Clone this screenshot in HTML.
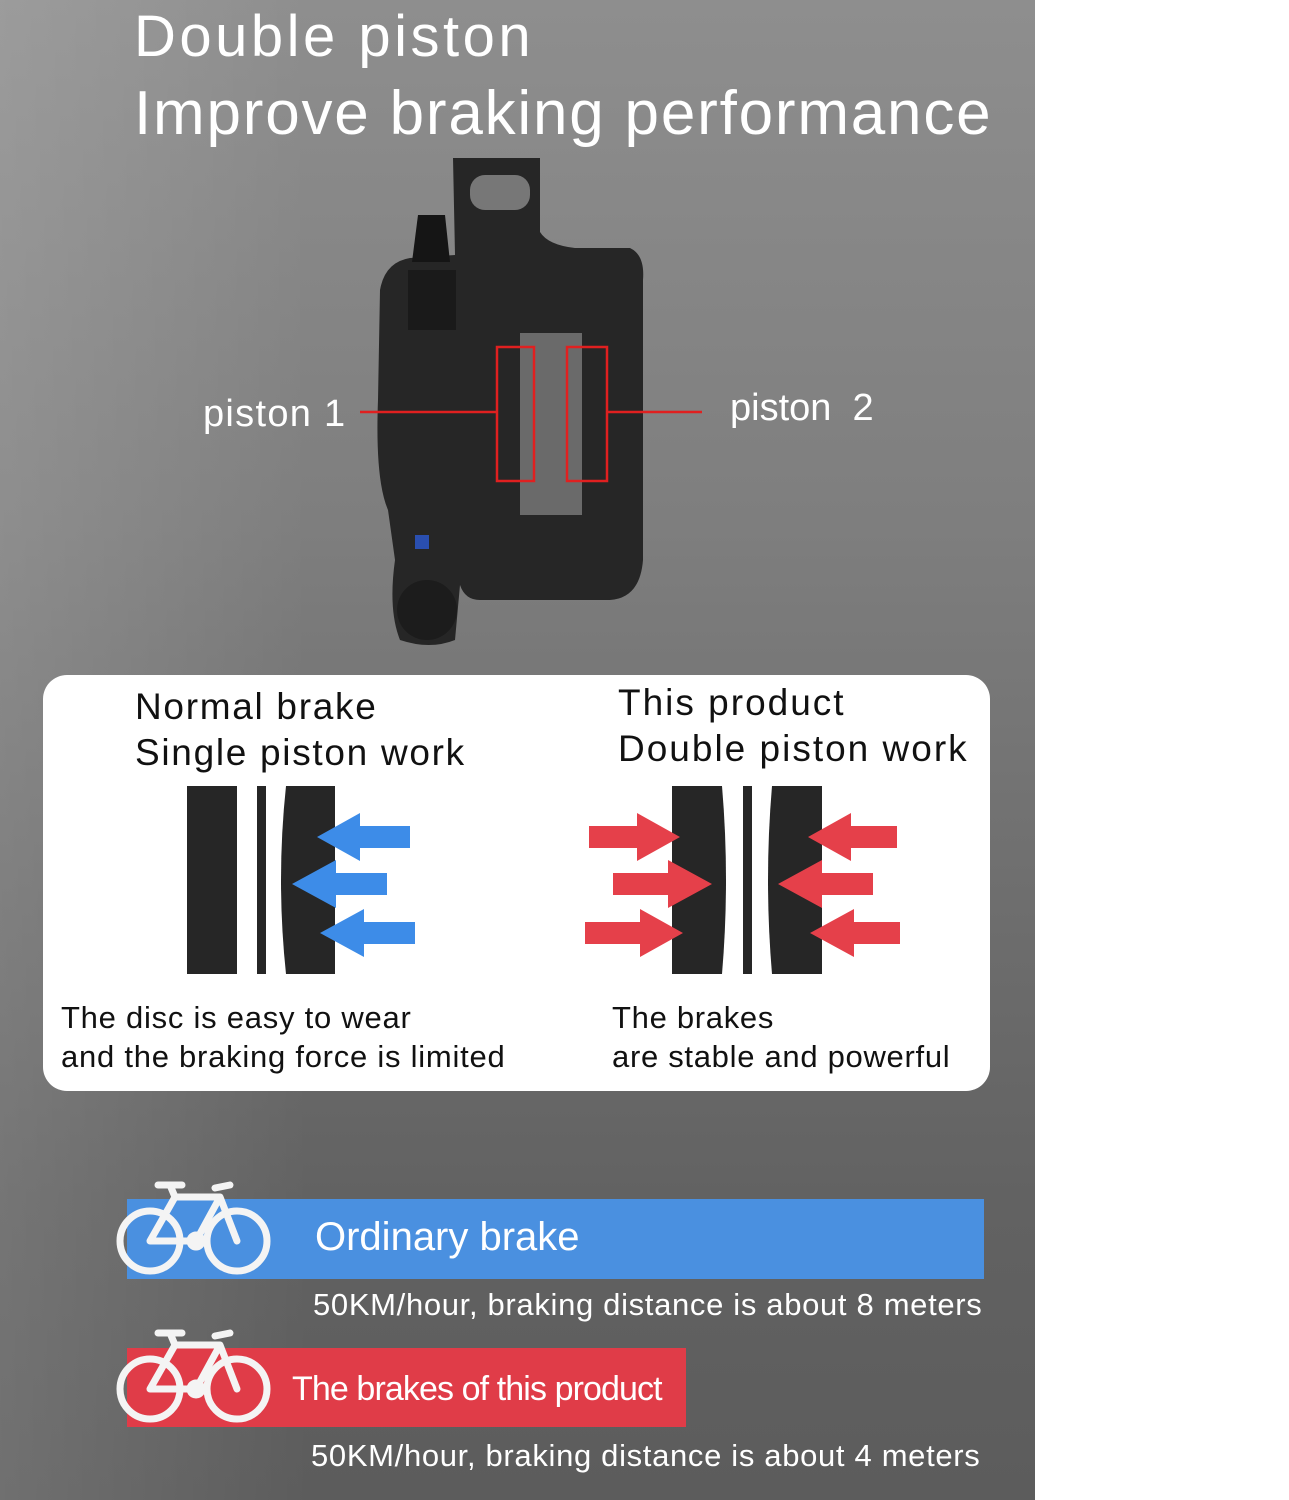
<!DOCTYPE html>
<html><head><meta charset="utf-8"><style>
body{margin:0;width:1289px;height:1500px;background:#fff;position:relative;overflow:hidden;font-family:"Liberation Sans","DejaVu Sans",sans-serif}
.panel{position:absolute;left:0;top:0;width:1035px;height:1500px;background:linear-gradient(90deg,rgba(255,255,255,0.12),rgba(255,255,255,0) 30%),linear-gradient(180deg,#8e8e8e 0%,#7e7e7e 35%,#6e6e6e 60%,#626262 80%,#5c5c5c 100%)}
.t{position:absolute;white-space:nowrap;color:#fff}
.k{position:absolute;white-space:nowrap;color:#111}
</style></head><body>
<div class="panel"></div>
<div class="t" style="left:134px;top:2px;font-size:58px;line-height:70px;letter-spacing:3.5px">Double piston</div>
<div class="t" style="left:134px;top:78px;font-size:62px;line-height:72px;letter-spacing:1.8px">Improve braking performance</div>

<svg style="position:absolute;left:0;top:0" width="1035" height="660">
<path d="M453,158 L540,158 L540,232 Q548,245 575,248 L630,248 Q645,255 643,280 L643,560 Q640,598 610,600 L480,600 Q465,600 460,585 L455,640 Q430,650 400,640 Q388,610 395,560 L388,510 Q375,480 378,400 L380,290 Q385,262 410,258 L455,255 Z" fill="#262626"/>
<rect x="470" y="175" width="60" height="35" rx="15" fill="#777"/>
<path d="M418,215 L445,215 L450,262 L412,262 Z" fill="#151515"/>
<rect x="408" y="270" width="48" height="60" fill="#1a1a1a"/>
<path d="M520,333 L582,333 L582,515 L520,515 Z" fill="#6a6a6a"/>
<ellipse cx="427" cy="610" rx="30" ry="30" fill="#1c1c1c"/>
<rect x="415" y="535" width="14" height="14" fill="#2a4fb0"/>
<rect x="497" y="347" width="37" height="134" fill="none" stroke="#e02020" stroke-width="2.5"/>
<rect x="567" y="347" width="40" height="134" fill="none" stroke="#e02020" stroke-width="2.5"/>
<line x1="360" y1="412" x2="497" y2="412" stroke="#e02020" stroke-width="2.5"/>
<line x1="607" y1="412" x2="702" y2="412" stroke="#e02020" stroke-width="2.5"/>
</svg>
<div class="t" style="left:203px;top:390px;font-size:38px;line-height:48px;letter-spacing:1.3px">piston 1</div>
<div class="t" style="left:730px;top:384px;font-size:38px;line-height:48px">piston&nbsp; 2</div>

<div style="position:absolute;left:43px;top:675px;width:947px;height:416px;background:#fff;border-radius:24px"></div>
<div class="k" style="left:135px;top:684px;font-size:37px;line-height:46px;letter-spacing:1.7px">Normal brake<br>Single piston work</div>
<div class="k" style="left:618px;top:680px;font-size:37px;line-height:46px;letter-spacing:2px">This product<br>Double piston work</div>
<svg style="position:absolute;left:0;top:0" width="1035" height="1000">
<g fill="#262626">
<rect x="187" y="786" width="50" height="188"/><rect x="257" y="786" width="9" height="188"/>
<path d="M286,786 L335,786 L335,974 L286,974 Q276,880 286,786Z"/>
<path d="M672,786 L722,786 Q730,880 722,974 L672,974Z"/><rect x="743" y="786" width="9" height="188"/>
<path d="M772,786 L822,786 L822,974 L772,974 Q764,880 772,786Z"/>
</g>
<g fill="#3d8ce8">
<path d="M317,837 L360,813 L360,826 L410,826 L410,848 L360,848 L360,861Z"/>
<path d="M292,884 L336,860 L336,873 L387,873 L387,895 L336,895 L336,908Z"/>
<path d="M320,933 L364,909 L364,922 L415,922 L415,944 L364,944 L364,957Z"/>
</g>
<g fill="#e5404a">
<path d="M680,837 L637,813 L637,826 L589,826 L589,848 L637,848 L637,861Z"/>
<path d="M712,884 L668,860 L668,873 L613,873 L613,895 L668,895 L668,908Z"/>
<path d="M683,933 L640,909 L640,922 L585,922 L585,944 L640,944 L640,957Z"/>
<path d="M808,837 L851,813 L851,826 L897,826 L897,848 L851,848 L851,861Z"/>
<path d="M778,884 L822,860 L822,873 L873,873 L873,895 L822,895 L822,908Z"/>
<path d="M810,933 L854,909 L854,922 L900,922 L900,944 L854,944 L854,957Z"/>
</g>
</svg>
<div class="k" style="left:61px;top:998px;font-size:31px;line-height:39px;letter-spacing:0.75px">The disc is easy to wear<br>and the braking force is limited</div>
<div class="k" style="left:612px;top:998px;font-size:31px;line-height:39px;letter-spacing:0.7px">The brakes<br>are stable and powerful</div>

<div style="position:absolute;left:127px;top:1199px;width:857px;height:80px;background:#4a90e0"></div>
<div class="t" style="left:315px;top:1212px;font-size:40px;line-height:50px">Ordinary brake</div>
<div class="t" style="left:313px;top:1285px;font-size:31px;line-height:40px;letter-spacing:0.67px">50KM/hour, braking distance is about 8 meters</div>
<div style="position:absolute;left:127px;top:1348px;width:559px;height:79px;background:#e03c48"></div>
<div class="t" style="left:292px;top:1367px;font-size:34px;line-height:44px;letter-spacing:-0.9px">The brakes of this product</div>
<div class="t" style="left:311px;top:1436px;font-size:31px;line-height:40px;letter-spacing:0.67px">50KM/hour, braking distance is about 4 meters</div>

<svg style="position:absolute;left:0;top:0" width="300" height="1500">
<g id="bk" fill="none" stroke="#f4f4f4" stroke-width="7" stroke-linecap="round" stroke-linejoin="round">
<circle cx="150" cy="1241" r="30"/><circle cx="237" cy="1241" r="30"/>
<path d="M150,1241 L175,1197 L220,1197 L196,1241 Z M150,1241 L196,1241 M175,1197 L170,1185 M158,1185 L182,1185 M220,1197 L237,1241 M215,1188 L230,1185"/>
<circle cx="196" cy="1241" r="6" fill="#f4f4f4"/>
</g>
<use href="#bk" y="148"/>
</svg>
</body></html>
